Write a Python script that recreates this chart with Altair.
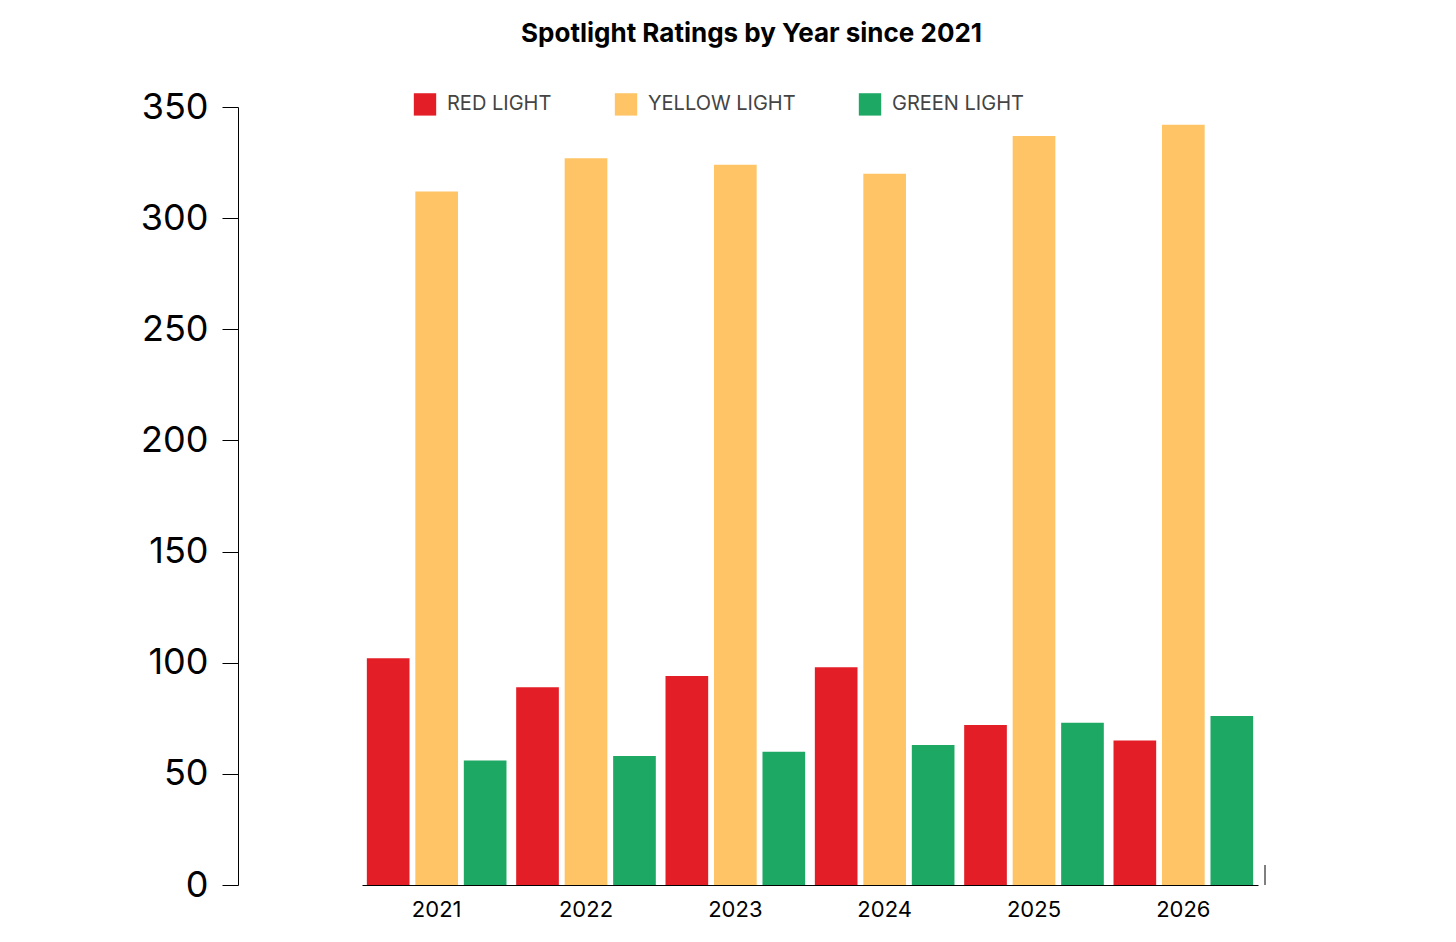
import altair as alt
import pandas as pd

years = ["2021", "2022", "2023", "2024", "2025", "2026"]
red = [102, 89, 94, 98, 72, 65]
yellow = [312, 327, 324, 320, 337, 342]
green = [56, 58, 60, 63, 73, 76]
series = ["RED LIGHT", "YELLOW LIGHT", "GREEN LIGHT"]
colors = ["#E31E26", "#FEC466", "#1DA864"]

rows = []
for i, y in enumerate(years):
    for s, vals in zip(series, [red, yellow, green]):
        rows.append({"year": y, "series": s, "value": vals[i]})
df = pd.DataFrame(rows)

W, H = 1027, 778
FONT = "Inter"

bars = alt.Chart(df).mark_bar().encode(
    x=alt.X("year:N", title=None, sort=years,
            scale=alt.Scale(range=[124, 1020], paddingInner=0, paddingOuter=0),
            axis=alt.Axis(labelAngle=0, ticks=False, labelFontSize=22, labelFont=FONT,
                          labelColor="#000", domainColor="#000", labelPadding=14)),
    xOffset=alt.XOffset("series:N", sort=series,
                        scale=alt.Scale(paddingInner=0.12, paddingOuter=0.1)),
    y=alt.Y("value:Q", title=None, scale=alt.Scale(domain=[0, 350]),
            axis=alt.Axis(values=[0, 50, 100, 150, 200, 250, 300, 350], grid=False,
                          tickSize=16, tickColor="#000", domainColor="#000",
                          labelFontSize=36, labelFont=FONT, labelColor="#000", labelPadding=14)),
    color=alt.Color("series:N", sort=series,
                    scale=alt.Scale(domain=series, range=colors),
                    legend=alt.Legend(title=None, orient="none", direction="horizontal",
                                      legendX=175, legendY=-15, symbolType="square",
                                      symbolSize=500, symbolOpacity=1, labelFontSize=20,
                                      labelFont=FONT, labelColor="#444", columnPadding=62,
                                      labelOffset=10)),
)

rtick = alt.Chart(pd.DataFrame({"a": [0]})).mark_rule(color="#000").encode(
    x=alt.value(W), y=alt.value(H), y2=alt.value(H - 20))

chart = alt.layer(bars, rtick).properties(
    width=W, height=H,
    title=alt.TitleParams("Spotlight Ratings by Year since 2021", fontSize=26,
                          font=FONT, fontWeight="bold", offset=42, anchor="middle"),
    autosize=alt.AutoSizeParams(type="none"),
    padding={"left": 230, "top": 99, "right": 50, "bottom": 50},
).configure_view(stroke=None)

chart.save("out.html", embed_options={"renderer": "svg", "actions": False})
